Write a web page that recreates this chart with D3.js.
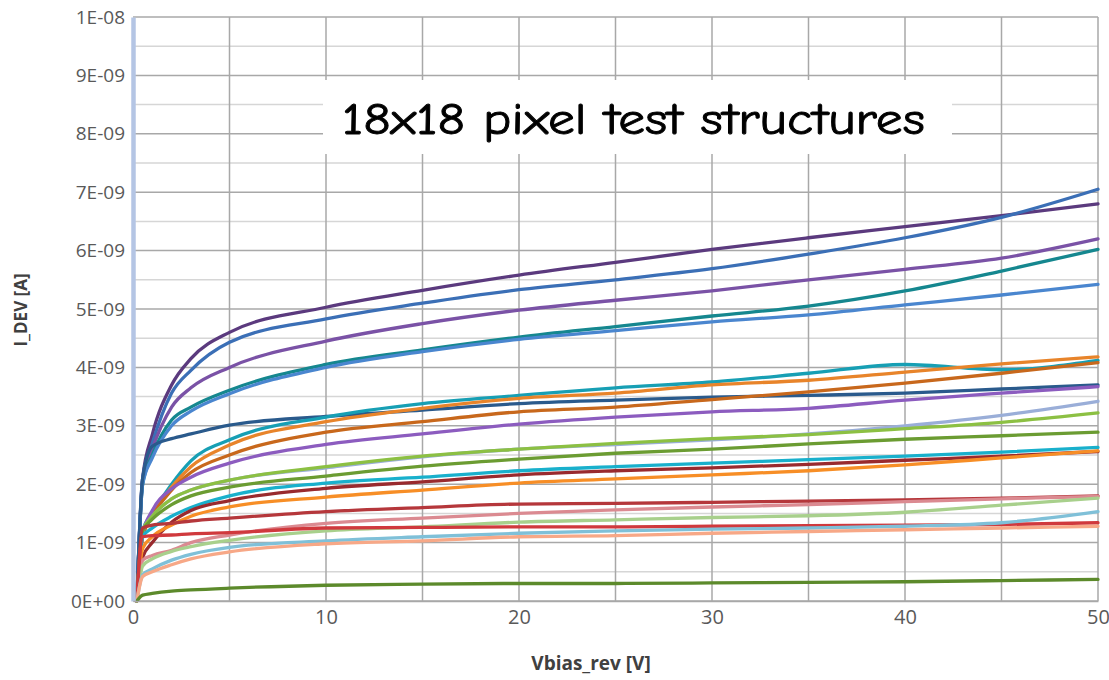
<!DOCTYPE html>
<html>
<head>
<meta charset="utf-8">
<script src="https://cdn.jsdelivr.net/npm/d3@7"></script>
<style>
  html, body { margin: 0; padding: 0; background: #fff; }
  svg { display: block; }
</style>
</head>
<body>
<svg id="chart" width="1109" height="680"></svg>
<script>
// Reverse bias sweep points (V)
const vbias = [0.2, 0.5, 1, 2, 3, 5, 10, 15, 20, 25, 30, 35, 40, 45, 50];

// Measured leakage current per structure, in nA (scaled to A below)
const devA  = [0, 2.1, 2.85, 3.7, 4.15, 4.6, 5.03, 5.32, 5.58, 5.8, 6.02, 6.22, 6.41, 6.6, 6.8];
const devB  = [0, 2.1, 2.7, 3.56, 3.95, 4.43, 4.83, 5.1, 5.33, 5.5, 5.69, 5.94, 6.22, 6.57, 7.05];
const devC  = [0, 2.05, 2.6, 3.32, 3.65, 4.0, 4.45, 4.75, 4.98, 5.15, 5.31, 5.5, 5.68, 5.87, 6.2];
const devD  = [0, 2.0, 2.5, 3.1, 3.32, 3.61, 4.05, 4.3, 4.52, 4.7, 4.88, 5.05, 5.31, 5.65, 6.02];
const devE  = [0, 2.0, 2.45, 3.0, 3.25, 3.55, 4.0, 4.27, 4.48, 4.63, 4.78, 4.9, 5.07, 5.24, 5.42];
const devF  = [0, 2.1, 2.65, 2.78, 2.86, 3.01, 3.16, 3.27, 3.38, 3.44, 3.49, 3.52, 3.56, 3.63, 3.7];
const devG  = [0, 1.2, 1.5, 2.0, 2.4, 2.76, 3.15, 3.38, 3.52, 3.65, 3.75, 3.9, 4.05, 3.96, 4.12];
const devH  = [0, 1.1, 1.45, 1.95, 2.3, 2.67, 3.07, 3.3, 3.47, 3.56, 3.7, 3.78, 3.92, 4.06, 4.18];
const devI  = [0, 1.1, 1.45, 1.9, 2.2, 2.5, 2.89, 3.07, 3.24, 3.32, 3.45, 3.58, 3.73, 3.9, 4.08];
const devJ  = [0, 1.15, 1.55, 1.92, 2.12, 2.36, 2.68, 2.86, 3.03, 3.15, 3.24, 3.3, 3.44, 3.56, 3.67];
const devK  = [0, 1.2, 1.45, 1.75, 1.9, 2.07, 2.28, 2.47, 2.6, 2.68, 2.76, 2.86, 3.0, 3.18, 3.42];
const devL  = [0, 1.2, 1.45, 1.75, 1.9, 2.07, 2.3, 2.48, 2.6, 2.7, 2.78, 2.85, 2.95, 3.06, 3.22];
const devM  = [0, 1.2, 1.4, 1.65, 1.8, 1.95, 2.14, 2.31, 2.43, 2.53, 2.6, 2.69, 2.77, 2.83, 2.89];
const devN  = [0, 1.1, 1.25, 1.45, 1.6, 1.8, 2.02, 2.12, 2.23, 2.3, 2.36, 2.42, 2.48, 2.55, 2.63];
const devO  = [0, 0.75, 1.0, 1.35, 1.55, 1.72, 1.93, 2.04, 2.16, 2.23, 2.28, 2.34, 2.41, 2.48, 2.56];
const devP  = [0, 0.9, 1.1, 1.3, 1.45, 1.61, 1.78, 1.9, 2.02, 2.09, 2.16, 2.23, 2.33, 2.45, 2.57];
const devQ  = [0, 1.25, 1.3, 1.33, 1.37, 1.42, 1.53, 1.6, 1.66, 1.67, 1.69, 1.71, 1.73, 1.76, 1.8];
const devR  = [0, 0.7, 0.78, 0.87, 1.0, 1.13, 1.33, 1.42, 1.5, 1.56, 1.61, 1.65, 1.7, 1.75, 1.79];
const devS  = [0, 0.6, 0.72, 0.85, 0.93, 1.04, 1.2, 1.27, 1.35, 1.39, 1.43, 1.46, 1.52, 1.64, 1.76];
const devT  = [0, 1.1, 1.12, 1.13, 1.15, 1.17, 1.25, 1.26, 1.27, 1.27, 1.28, 1.29, 1.3, 1.31, 1.34];
const devU  = [0, 0.45, 0.55, 0.7, 0.8, 0.92, 1.03, 1.1, 1.16, 1.2, 1.23, 1.25, 1.28, 1.34, 1.53];
const devV  = [0, 0.42, 0.5, 0.62, 0.72, 0.84, 0.98, 1.03, 1.1, 1.12, 1.16, 1.19, 1.22, 1.25, 1.28];
const devW  = [0, 0.1, 0.13, 0.17, 0.19, 0.22, 0.27, 0.29, 0.3, 0.3, 0.31, 0.32, 0.33, 0.35, 0.37];

const seriesValues = [devA, devB, devC, devD, devE, devF, devG, devH, devI, devJ, devK, devL,
                      devM, devN, devO, devP, devQ, devR, devS, devT, devU, devV, devW];
const seriesColors = ["#5b3a7e", "#3b6fb6", "#7a52a6", "#15878f", "#4a86cf", "#2a5a8c",
                      "#179fb4", "#e8842a", "#c8681c", "#8c5cbf", "#9aaed8", "#8cc043",
                      "#6b9c32", "#19b0cc", "#992a2e", "#f78e26", "#b5373b", "#db8a91",
                      "#a8d08c", "#d0393d", "#7fc0d8", "#f7a887", "#5c8a2b"];

const xTicks = [0, 10, 20, 30, 40, 50];
const yTicks = [0, 1e-9, 2e-9, 3e-9, 4e-9, 5e-9, 6e-9, 7e-9, 8e-9, 9e-9, 1e-8];
const yTickLabels = ["0E+00", "1E-09", "2E-09", "3E-09", "4E-09", "5E-09",
                     "6E-09", "7E-09", "8E-09", "9E-09", "1E-08"];

const titleText = "18x18 pixel test structures";
const xTitle = "Vbias_rev [V]";
const yTitle = "I_DEV [A]";

const svg = d3.select("#chart");
const plotL = 133, plotR = 1098, plotT = 17, plotB = 601;

const x = d3.scaleLinear().domain([0, 50]).range([plotL, plotR]);
const y = d3.scaleLinear().domain([0, 1e-8]).range([plotB, plotT]);

// Minor horizontal grid (half steps)
const minorY = d3.range(0.5e-9, 1e-8, 1e-9);
svg.append("g").selectAll("line").data(minorY).join("line")
  .attr("x1", plotL).attr("x2", plotR)
  .attr("y1", d => y(d)).attr("y2", d => y(d))
  .attr("stroke", "#d6d6d6").attr("stroke-width", 1.5);

// Major horizontal grid
svg.append("g").selectAll("line").data(yTicks).join("line")
  .attr("x1", plotL).attr("x2", plotR)
  .attr("y1", d => y(d)).attr("y2", d => y(d))
  .attr("stroke", "#a8a8a8").attr("stroke-width", 1.5);

// Vertical grid every 5 V
svg.append("g").selectAll("line").data(d3.range(5, 51, 5)).join("line")
  .attr("x1", d => x(d)).attr("x2", d => x(d))
  .attr("y1", plotT).attr("y2", plotB)
  .attr("stroke", "#a8a8a8").attr("stroke-width", 1.5);

// Title box over the grid
svg.append("rect")
  .attr("x", 323).attr("y", 80).attr("width", 629).attr("height", 74)
  .attr("fill", "#fff");
svg.append("text")
  .attr("x", 342).attr("y", 134)
  .attr("textLength", 583).attr("lengthAdjust", "spacingAndGlyphs")
  .attr("font-family", "'Comic Sans MS', 'Comic Neue', 'Open Sans', sans-serif")
  .attr("font-size", 45).attr("fill", "#000")
  .attr("stroke", "#000").attr("stroke-width", 0.9)
  .text(titleText);

// Curves
const line = d3.line()
  .x((d, i) => x(vbias[i]))
  .y(d => y(d * 1e-9))
  .curve(d3.curveMonotoneX);

svg.append("g").attr("fill", "none")
  .selectAll("path").data(seriesValues).join("path")
  .attr("d", d => line(d))
  .attr("stroke", (d, i) => seriesColors[i])
  .attr("stroke-width", 3.3)
  .attr("stroke-linejoin", "round")
  .attr("stroke-linecap", "round");

// Axes
const yAxis = d3.axisLeft(y).tickValues(yTicks)
  .tickFormat((d, i) => yTickLabels[i]).tickSize(0).tickPadding(8);
const gy = svg.append("g").attr("transform", `translate(${plotL},0)`).call(yAxis);
gy.select(".domain").attr("stroke", "#b4c5e4").attr("stroke-width", 4.5);
gy.selectAll("text").attr("font-family", "'Open Sans', 'Noto Sans', sans-serif")
  .attr("font-size", 19).attr("fill", "#595959");

const xAxis = d3.axisBottom(x).tickValues(xTicks).tickFormat(d3.format("d"))
  .tickSize(0).tickPadding(9);
const gx = svg.append("g").attr("transform", `translate(0,${plotB})`).call(xAxis);
gx.select(".domain").attr("stroke", "#a8a8a8").attr("stroke-width", 1.5);
gx.selectAll("text").attr("font-family", "'Open Sans', 'Noto Sans', sans-serif")
  .attr("font-size", 20).attr("fill", "#595959");

// Axis titles
svg.append("text")
  .attr("x", 591).attr("y", 670).attr("text-anchor", "middle")
  .attr("font-family", "'Open Sans', 'Noto Sans', sans-serif")
  .attr("font-weight", "bold").attr("font-size", 19).attr("fill", "#404040")
  .text(xTitle);

svg.append("text")
  .attr("transform", "translate(27,310) rotate(-90)")
  .attr("text-anchor", "middle")
  .attr("font-family", "'Open Sans', 'Noto Sans', sans-serif")
  .attr("font-weight", "bold").attr("font-size", 17).attr("fill", "#404040")
  .text(yTitle);
</script>
</body>
</html>
